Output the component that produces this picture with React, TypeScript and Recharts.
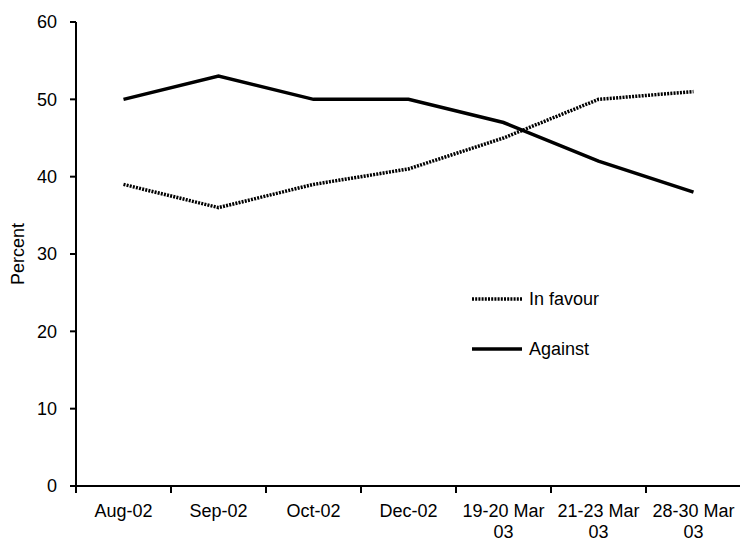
import { Label, Legend, Line, LineChart, Text, XAxis, YAxis } from "recharts"

const periods = ["Aug-02", "Sep-02", "Oct-02", "Dec-02", "19-20 Mar 03", "21-23 Mar 03", "28-30 Mar 03"]
const inFavour = [39, 36, 39, 41, 45, 50, 51]
const against = [50, 53, 50, 50, 47, 42, 38]
const percentTicks = [0, 10, 20, 30, 40, 50, 60]
const seriesOrder = ["In favour", "Against"]

const data = periods.map((period, i) => ({ period, inFavour: inFavour[i], against: against[i] }))

const font = '"Liberation Sans", Arial, Helvetica, sans-serif'
const textStyle = { fontSize: 18, fontFamily: font }
const band = 95
const markSize = 7
const labelGap = 18

// label in the middle of a period, tick mark on the boundary to its left
// (and on the right for the last period)
function PeriodTick({ x, y, payload, index }: any) {
  const axisY = y - labelGap
  const isLast = index === periods.length - 1
  return (
    <g>
      <line x1={x - band / 2} x2={x - band / 2} y1={axisY} y2={axisY + markSize} stroke="#000" strokeWidth={2} />
      {isLast && (
        <line x1={x + band / 2} x2={x + band / 2} y1={axisY} y2={axisY + markSize} stroke="#000" strokeWidth={2} />
      )}
      <Text
        x={x}
        y={y}
        width={band}
        textAnchor="middle"
        verticalAnchor="start"
        lineHeight={21}
        style={textStyle}
        fill="#000"
      >
        {payload.value}
      </Text>
    </g>
  )
}

function PercentLabel({ viewBox }: any) {
  const cx = viewBox.x + 18
  const cy = viewBox.y + viewBox.height / 2
  return (
    <text
      x={cx}
      y={cy}
      transform={`rotate(-90 ${cx} ${cy})`}
      textAnchor="middle"
      dominantBaseline="central"
      style={textStyle}
      fill="#000"
    >
      Percent
    </text>
  )
}

function renderLegend({ payload }: any) {
  const items = [...(payload || [])].sort(
    (a: any, b: any) => seriesOrder.indexOf(a.value) - seriesOrder.indexOf(b.value)
  )
  return (
    <div style={{ ...textStyle, color: "#000" }}>
      {items.map((entry: any) => (
        <div key={entry.value} style={{ display: "flex", alignItems: "center", height: 50 }}>
          <svg width={50} height={6}>
            <line
              x1={0}
              x2={50}
              y1={3}
              y2={3}
              stroke="#000"
              strokeWidth={entry.payload?.strokeWidth ?? 3}
              strokeDasharray={entry.payload?.strokeDasharray}
            />
          </svg>
          <span style={{ marginLeft: 7 }}>{entry.value}</span>
        </div>
      ))}
    </div>
  )
}

export default function App() {
  return (
    <div style={{ position: "absolute", left: 0, top: 0, background: "#fff" }}>
      <LineChart width={741} height={540} data={data} margin={{ top: 22, right: 0, bottom: 0, left: 0 }}>
        <XAxis
          dataKey="period"
          height={54}
          padding={{ left: band / 2, right: band / 2 }}
          axisLine={{ stroke: "#000", strokeWidth: 2 }}
          tickLine={false}
          tickSize={6}
          tickMargin={labelGap - 6}
          interval={0}
          tick={<PeriodTick />}
        />
        <YAxis
          width={76}
          domain={[0, 60]}
          ticks={percentTicks}
          axisLine={{ stroke: "#000", strokeWidth: 2 }}
          tickLine={{ stroke: "#000", strokeWidth: 2 }}
          tickSize={6}
          tickMargin={13}
          tick={{ ...textStyle, fill: "#000" }}
        >
          <Label content={<PercentLabel />} />
        </YAxis>
        <Legend
          layout="horizontal"
          verticalAlign="middle"
          content={renderLegend}
          wrapperStyle={{ left: 472, top: 274, width: 200 }}
        />
        <Line
          name="In favour"
          dataKey="inFavour"
          stroke="#000"
          strokeWidth={3.5}
          strokeDasharray="2 1.2"
          dot={false}
          isAnimationActive={false}
        />
        <Line
          name="Against"
          dataKey="against"
          stroke="#000"
          strokeWidth={3.5}
          dot={false}
          isAnimationActive={false}
        />
      </LineChart>
    </div>
  )
}
